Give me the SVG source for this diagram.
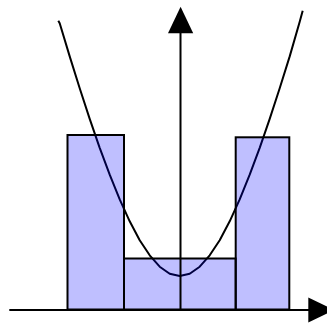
<svg xmlns="http://www.w3.org/2000/svg" width="327" height="323" viewBox="0 0 327 323">
<style>
.bar{fill:#0000ff;fill-opacity:0.25;stroke:#000;stroke-width:2}
.curve{fill:none;stroke:#000;stroke-width:2;stroke-linejoin:round}
.axis{stroke:#000;stroke-width:2;fill:none}
.head{fill:#000;stroke:none}
</style>
<rect width="327" height="323" fill="#fff"/>
<g id="curve">
<path class="curve" d="M58.3,20.7 L59.7,23.3 L69.7,56.4 L79.7,88.3 L89.7,118.9 L99.7,147.8 L109.7,174.7 L119.7,199.4 L129.7,221.3 L139.7,240.2 L149.7,255.3 L159.7,266.7 L169.7,273.7 L179.7,276 L189.7,273.7 L199.7,266.7 L209.7,255.3 L219.7,240.2 L229.7,221.3 L239.7,199.4 L249.7,174.7 L259.7,147.8 L269.7,118.9 L279.7,88.3 L289.7,56.4 L299.7,21.8 L302.7,10.7"/>
</g>
<g id="bar-left"><rect class="bar" x="67.5" y="135" width="56.5" height="174.5"/></g>
<g id="bar-middle"><rect class="bar" x="124" y="258.5" width="111.7" height="51"/></g>
<g id="bar-right"><rect class="bar" x="235.7" y="137.3" width="53.6" height="172.2"/></g>
<g id="connectors">
<line class="axis" x1="9.3" y1="310" x2="310" y2="310"/>
<polygon class="head" points="308.3,297.5 334.3,310 308.3,322.5"/>
<line class="axis" x1="180.5" y1="310" x2="180.5" y2="32"/>
<polygon class="head" points="168,33.3 180.6,6.7 193.2,33.3"/>
</g>
</svg>
